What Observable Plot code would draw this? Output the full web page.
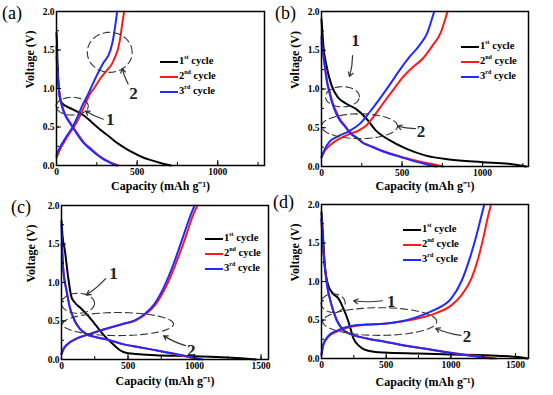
<!DOCTYPE html>
<html><head><meta charset="utf-8">
<script src="https://cdn.jsdelivr.net/npm/d3@7"></script>
<script src="https://cdn.jsdelivr.net/npm/@observablehq/plot@0.6"></script>
<style>
body{margin:0;background:#fff;}
#wrap{position:relative;width:553px;height:395px;overflow:hidden;font-family:"Liberation Serif","Times New Roman",serif;}
#wrap svg, #wrap svg text{font-family:"Liberation Serif","Times New Roman",serif !important;}
.pl{position:absolute;}
.tag{position:absolute;font-size:18px;line-height:18px;}
.leg{position:absolute;font-size:10.5px;font-weight:bold;}
.leg div{height:15px;line-height:15px;white-space:nowrap;}
.leg span.sw{display:inline-block;width:18px;height:2px;vertical-align:middle;margin-right:1px;}
.leg sup{font-size:6px;vertical-align:5px;line-height:0;}
</style></head><body><div id="wrap"></div>
<script>
// ---------- data: [capacity mAh/g, voltage V] ----------
const a1d=[[0,1.72],[3,1.6],[6,1.35],[10,1.15],[14,1.02],[18,0.92],[24,0.85],[35,0.81],[60,0.77],[100,0.73],[170,0.65],[220,0.56],[274,0.46],[330,0.37],[378,0.29],[430,0.22],[481,0.16],[530,0.11],[585,0.07],[650,0.03],[710,0]];
const a2d=[[0,1.42],[5,1.25],[12,1.05],[22,0.9],[35,0.78],[55,0.66],[80,0.57],[105,0.49],[135,0.4],[170,0.3],[212,0.22],[250,0.15],[290,0.09],[330,0.045],[385,0]];
const a3d=[[0,1.55],[5,1.3],[12,1.05],[20,0.9],[32,0.78],[52,0.66],[77,0.57],[100,0.5],[130,0.4],[165,0.3],[205,0.22],[245,0.15],[285,0.09],[325,0.045],[372,0]];
const a2c=[[0,0.1],[20,0.2],[46,0.3],[75,0.4],[108,0.5],[140,0.62],[175,0.78],[205,0.92],[232,1.0],[272,1.13],[310,1.23],[344,1.32],[365,1.42],[382,1.52],[395,1.65],[405,1.8],[412,1.9],[420,2.0]];
const a3c=[[0,0.13],[20,0.23],[45,0.32],[72,0.41],[100,0.5],[130,0.63],[160,0.78],[190,0.9],[212,1.0],[250,1.17],[290,1.33],[335,1.5],[352,1.65],[362,1.78],[370,1.9],[376,2.0]];

const b1d=[[0,1.9],[5,1.75],[12,1.55],[31,1.3],[62,1.05],[103,0.89],[154,0.81],[216,0.74],[278,0.62],[340,0.46],[422,0.34],[525,0.23],[648,0.14],[792,0.09],[998,0.056],[1162,0.034],[1270,0]];
const b2d=[[0,1.6],[10,1.45],[21,1.3],[35,1.1],[51,0.96],[70,0.82],[93,0.7],[118,0.6],[144,0.53],[185,0.42],[226,0.36],[260,0.3],[300,0.27],[381,0.2],[504,0.12],[628,0.055],[700,0.025],[755,0]];
const b3d=[[0,1.67],[8,1.5],[20,1.3],[33,1.1],[48,0.96],[66,0.82],[88,0.7],[112,0.6],[140,0.53],[180,0.43],[220,0.37],[255,0.31],[295,0.27],[375,0.2],[495,0.12],[610,0.05],[670,0.02],[712,0]];
const b2c=[[0,0.12],[20,0.2],[51,0.27],[113,0.36],[175,0.42],[226,0.46],[278,0.53],[329,0.66],[381,0.81],[442,0.98],[504,1.15],[566,1.28],[628,1.39],[689,1.56],[741,1.73],[765,1.88],[782,2.0]];
const b3c=[[0,0.12],[20,0.22],[50,0.32],[93,0.38],[175,0.46],[237,0.55],[298,0.7],[360,0.87],[422,1.05],[484,1.24],[545,1.41],[607,1.56],[658,1.73],[682,1.88],[700,2.0]];

const c1d=[[0,1.8],[8,1.6],[25,1.42],[50,1.07],[75,0.81],[100,0.74],[149,0.66],[199,0.57],[261,0.44],[311,0.33],[386,0.2],[440,0.12],[470,0.095],[560,0.07],[709,0.055],[958,0.045],[1206,0.03],[1350,0.015],[1460,0]];
const c2d=[[0,1.5],[5,1.4],[12,1.2],[37,0.9],[62,0.68],[100,0.5],[137,0.4],[187,0.33],[261,0.29],[361,0.25],[460,0.2],[585,0.16],[709,0.12],[833,0.075],[958,0.03],[1035,0]];
const c3d=[[0,1.75],[5,1.5],[12,1.2],[37,0.9],[62,0.68],[100,0.5],[137,0.4],[187,0.33],[261,0.29],[361,0.25],[460,0.2],[585,0.16],[709,0.12],[833,0.08],[958,0.04],[1060,0]];
const c2c=[[0,0.07],[15,0.13],[37,0.18],[112,0.27],[211,0.33],[336,0.4],[460,0.46],[560,0.51],[634,0.59],[709,0.72],[784,0.94],[858,1.24],[933,1.59],[983,1.85],[1022,2.0]];
const c3c=[[0,0.07],[15,0.14],[37,0.19],[112,0.27],[211,0.33],[336,0.4],[460,0.46],[555,0.51],[625,0.59],[698,0.72],[770,0.94],[842,1.24],[913,1.59],[965,1.85],[1000,2.0]];

const d1d=[[0,1.9],[8,1.7],[13,1.56],[26,1.21],[52,0.95],[91,0.84],[130,0.78],[169,0.65],[208,0.48],[247,0.26],[300,0.15],[378,0.095],[482,0.078],[742,0.065],[1003,0.052],[1263,0.043],[1523,0.02],[1590,0]];
const d2d=[[0,1.8],[13,1.43],[39,1.0],[78,0.69],[117,0.5],[169,0.37],[221,0.32],[352,0.26],[482,0.22],[638,0.17],[794,0.13],[950,0.087],[1107,0.05],[1263,0.02],[1350,0]];
const d3d=[[0,1.82],[13,1.43],[39,1.0],[78,0.69],[117,0.5],[169,0.37],[221,0.32],[352,0.26],[482,0.22],[638,0.17],[794,0.13],[950,0.085],[1107,0.045],[1240,0.015],[1320,0]];
const d2c=[[0,0.04],[13,0.17],[52,0.28],[117,0.35],[221,0.41],[352,0.44],[482,0.45],[612,0.48],[742,0.52],[872,0.58],[1003,0.69],[1081,0.82],[1159,1.04],[1211,1.3],[1250,1.56],[1289,1.86],[1310,2.0]];
const d3c=[[0,0.05],[13,0.18],[52,0.29],[117,0.36],[221,0.42],[352,0.44],[482,0.45],[612,0.48],[742,0.54],[872,0.63],[1003,0.78],[1081,1.0],[1146,1.3],[1198,1.6],[1237,1.86],[1258,2.0]];

const cycleLabels=[["1","st"],["2","nd"],["3","rd"]];
const cycleColors=["#000000","#ff1a1a","#1f2bff"];
const yTicks=[0,0.5,1.0,1.5,2.0];
const xLabel="Capacity (mAh g⁻¹)";
const yLabel="Voltage (V)";

// annotations (data coordinates)
const annA={ell:[[97,0.77,100,0.115],[330,1.47,139,0.26]],arr:[[290,0.6,179,0.71],[444,1.06,407,1.26]],txt:[[333,0.6,"1"],[478,0.93,"2"]]};
const annB={ell:[[130,0.9,105,0.13],[236,0.52,236,0.16]],arr:[[193,1.43,174,1.16],[584,0.49,472,0.52]],txt:[[211,1.62,"1"],[618,0.45,"2"]]};
const annC={ell:[[124,0.73,124,0.13],[425,0.46,417,0.15]],arr:[[331,1.05,188,0.84],[932,0.18,767,0.31]],txt:[[390,1.12,"1"],[975,0.11,"2"]]};
const annD={ell:[[90,0.72,93,0.12],[450,0.48,441,0.18]],arr:[[470,0.75,248,0.75],[1077,0.3,883,0.39]],txt:[[540,0.74,"1"],[1125,0.28,"2"]]};

const panels=[
 {tag:"(a)",tagPos:[2,4],left:0,top:0,w:276,h:196,m:[11,12,31,56],xMax:1290,xMajor:[0,500,1000],series:[[a1d,0],[a2d,1],[a2c,1],[a3d,2],[a3c,2]],ann:annA,leg:[160,53],xlo:24,ylo:26},
 {tag:"(b)",tagPos:[275,4],left:265,top:0,w:288,h:196,m:[11,25,30,56],xMax:1285,xMajor:[0,500,1000],series:[[b1d,0],[b2d,1],[b2c,1],[b3d,2],[b3c,2]],ann:annB,leg:[461,38],xlo:23,ylo:26},
 {tag:"(c)",tagPos:[11,198],left:0,top:196,w:276,h:199,m:[9,8,36,61],xMax:1556,xMajor:[0,500,1000,1500],series:[[c1d,0],[c2d,1],[c2c,1],[c3d,2],[c3c,2]],ann:annC,leg:[205,230],xlo:25,ylo:30},
 {tag:"(d)",tagPos:[273,193],left:265,top:196,w:288,h:199,m:[8,25,37,56],xMax:1600,xMajor:[0,500,1000,1500],series:[[d1d,0],[d2d,1],[d2c,1],[d3d,2],[d3c,2]],ann:annD,leg:[403,221],xlo:27,ylo:26}
];

const wrap=document.getElementById("wrap");
for(const p of panels){
  const [mt,mr,mb,ml]=p.m;
  const marks=[];
  for(const [s,ci] of p.series){
    marks.push(Plot.line(s,{x:d=>d[0],y:d=>d[1],stroke:cycleColors[ci],strokeWidth:2,curve:"monotone-x"}));
  }
  const ell=p.ann.ell.flatMap(([cx,cy,rx,ry],i)=>d3.range(0,361,6).map(t=>({i,x:cx+rx*Math.cos(t*Math.PI/180),y:cy+ry*Math.sin(t*Math.PI/180)})));
  marks.push(Plot.line(ell,{x:"x",y:"y",z:"i",stroke:"#333",strokeWidth:1.1,strokeDasharray:"7,4"}));
  marks.push(Plot.arrow(p.ann.arr,{x1:d=>d[0],y1:d=>d[1],x2:d=>d[2],y2:d=>d[3],stroke:"#333",strokeWidth:1.2,headLength:6,bend:8}));
  marks.push(Plot.text(p.ann.txt,{x:d=>d[0],y:d=>d[1],text:d=>d[2],fontSize:17,fontWeight:"bold",fill:"#222"}));
  const minor=d3.range(0,p.xMax+1,250);
  marks.push(Plot.axisX({ticks:minor,tickSize:-3,tickFormat:()=>"",label:null}));
  marks.push(Plot.axisX({ticks:p.xMajor,tickSize:-5,tickPadding:8,tickFormat:d=>String(d),label:null,fontSize:9.5,fontWeight:"bold"}));
  marks.push(Plot.axisY({ticks:d3.range(0,2.01,0.25),tickSize:-3,tickFormat:()=>"",label:null}));
  marks.push(Plot.axisY({ticks:yTicks,tickSize:-5,tickPadding:7,tickFormat:d3.format(".1f"),label:null,fontSize:9.5,fontWeight:"bold"}));
  marks.push(Plot.frame({stroke:"#000",strokeWidth:1.5}));
  marks.push(Plot.text([xLabel],{frameAnchor:"bottom",dy:p.xlo,fontSize:12,fontWeight:"bold",text:d=>d}));
  marks.push(Plot.text([yLabel],{frameAnchor:"left",dx:-p.ylo,rotate:-90,fontSize:12,fontWeight:"bold",text:d=>d}));
  const chart=Plot.plot({width:p.w,height:p.h,marginTop:mt,marginRight:mr,marginBottom:mb,marginLeft:ml,
    style:{fontFamily:"'Liberation Serif', serif",background:"transparent",color:"#000",overflow:"visible"},
    x:{domain:[0,p.xMax]},y:{domain:[0,2]},marks});
  chart.classList.add("pl");
  chart.style.left=p.left+"px";chart.style.top=p.top+"px";
  wrap.appendChild(chart);
  const tag=document.createElement("div");tag.className="tag";tag.textContent=p.tag;
  tag.style.left=p.tagPos[0]+"px";tag.style.top=p.tagPos[1]+"px";wrap.appendChild(tag);
  const leg=document.createElement("div");leg.className="leg";leg.style.left=p.leg[0]+"px";leg.style.top=p.leg[1]+"px";
  cycleLabels.forEach(([n,s],i)=>{
    const row=document.createElement("div");
    const sw=document.createElement("span");sw.className="sw";sw.style.background=cycleColors[i];row.appendChild(sw);
    row.appendChild(document.createTextNode(n));
    const sup=document.createElement("sup");sup.textContent=s;row.appendChild(sup);
    row.appendChild(document.createTextNode(" cycle"));
    leg.appendChild(row);
  });
  wrap.appendChild(leg);
}
</script></body></html>
